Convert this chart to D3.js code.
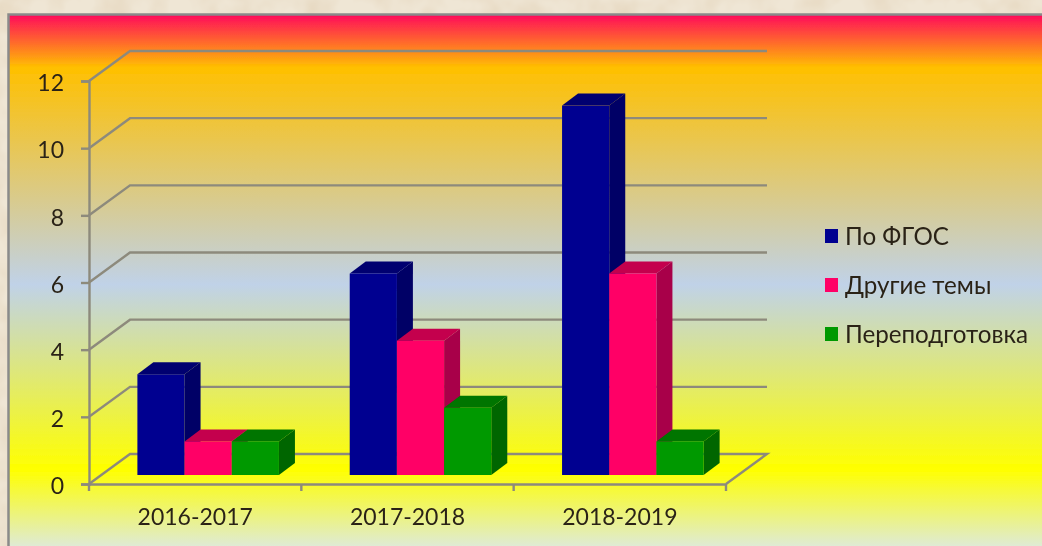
<!DOCTYPE html>
<html>
<head>
<meta charset="utf-8">
<script src="https://cdn.jsdelivr.net/npm/d3@7"></script>
<style>
html, body { margin: 0; padding: 0; background: #efe6d5; overflow: hidden; }
svg { display: block; }
text { font-family: Lato, "Open Sans", sans-serif; fill: #2b2418; }
</style>
</head>
<body>
<div id="chart"></div>
<script>
const categories = ['2016-2017', '2017-2018', '2018-2019'];
const seriesNames = ['По ФГОС', 'Другие темы', 'Переподготовка'];
const fgosValues = [3, 6, 11];
const otherValues = [1, 4, 6];
const retrainValues = [1, 2, 1];
const yTicks = [0, 2, 4, 6, 8, 10, 12];

const width = 1042, height = 546;
const gridColor = '#8d8a7c';
// front, top, side of each series
const seriesColors = [
    ['#000090', '#000070', '#000066'],
    ['#ff0066', '#c4004e', '#a80048'],
    ['#009900', '#007400', '#006600']
];
const seriesValues = [fgosValues, otherValues, retrainValues];

const floorDx = 41, floorDy = -30;   // depth of the floor
const barDx = 16, barDy = -12;       // depth of a bar
const barOffX = 13, barOffY = -9;    // bars stand a bit behind the front edge

const x = d3.scaleBand().domain(categories).range([89, 726]).paddingInner(1 / 3).paddingOuter(1 / 6);
const xInner = d3.scaleBand().domain(d3.range(seriesNames.length)).range([0, x.bandwidth()]);
const y = d3.scaleLinear().domain([0, 12]).range([484, 81]);

const svg = d3.select('#chart').append('svg').attr('width', width).attr('height', height);

const defs = svg.append('defs');
const grad = defs.append('linearGradient').attr('id', 'panelFill')
    .attr('gradientUnits', 'userSpaceOnUse')
    .attr('x1', 0).attr('x2', 0).attr('y1', 14.5).attr('y2', 546);
[
    [0, '#ff0a5c'], [0.1, '#ffc000'], [0.508, '#c0d2e8'],
    [0.856, '#ffff00'], [1, '#dfebd4']
].forEach(function(s) {
    grad.append('stop').attr('offset', s[0]).attr('stop-color', s[1]);
});
// the reference is a slightly soft screenshot
defs.append('filter').attr('id', 'soft')
    .attr('x', '-5%').attr('y', '-5%').attr('width', '110%').attr('height', '110%')
    .append('feGaussianBlur').attr('stdDeviation', 0.6);

// paper texture behind the panel
const paper = defs.append('filter').attr('id', 'paper')
    .attr('x', 0).attr('y', 0).attr('width', '100%').attr('height', '100%');
paper.append('feTurbulence').attr('type', 'fractalNoise').attr('baseFrequency', 0.03).attr('numOctaves', 3).attr('seed', 4);
paper.append('feColorMatrix').attr('type', 'matrix')
    .attr('values', '0 0 0 0 0.72  0 0 0 0 0.58  0 0 0 0 0.40  0.9 0 0 0 -0.32');
svg.append('rect').attr('width', width).attr('height', height).attr('filter', 'url(#paper)');

const root = svg.append('g').attr('filter', 'url(#soft)');

root.append('rect')
    .attr('x', 8.5).attr('y', 14.5).attr('width', 1045).attr('height', 545)
    .attr('fill', 'url(#panelFill)')
    .attr('stroke', '#8a8a8a').attr('stroke-width', 2.5);

// back wall and side wall grid
root.append('g').selectAll('path')
    .data(yTicks)
    .enter()
    .append('path')
    .attr('fill', 'none')
    .attr('stroke', gridColor)
    .attr('stroke-width', 2.4)
    .attr('d', function(d) {
        const p = d3.path();
        p.moveTo(x.range()[0], y(d));
        p.lineTo(x.range()[0] + floorDx, y(d) + floorDy);
        p.lineTo(x.range()[1] + floorDx, y(d) + floorDy);
        if (d === 0) p.lineTo(x.range()[1], y(d));
        return p.toString();
    });

// axes
const yAxis = root.append('g')
    .attr('transform', 'translate(' + x.range()[0] + ',0)')
    .call(d3.axisLeft(y).tickValues(yTicks).tickSize(8).tickPadding(17));
const xAxis = root.append('g')
    .attr('transform', 'translate(0,' + y(0) + ')')
    .call(d3.axisBottom(x).tickSize(0).tickPadding(25));
xAxis.selectAll('.tick-mark')
    .data(d3.range(categories.length + 1))
    .enter()
    .append('line')
    .attr('class', 'tick-mark')
    .attr('x1', function(i) { return x.range()[0] + i * x.step(); })
    .attr('x2', function(i) { return x.range()[0] + i * x.step(); })
    .attr('y1', 0).attr('y2', 7);
[yAxis, xAxis].forEach(function(a) {
    a.selectAll('.domain, line').attr('stroke', gridColor).attr('stroke-width', 2.4);
    a.selectAll('text').attr('fill', '#2b2418').style('font-size', '23px').style('font-family', 'Lato, sans-serif');
});
yAxis.selectAll('text').attr('dy', '0.42em');

// bars
const barData = [];
categories.forEach(function(c, ci) {
    seriesNames.forEach(function(s, si) {
        barData.push({ cat: c, si: si, value: seriesValues[si][ci] });
    });
});

const bars = root.append('g').selectAll('g')
    .data(barData)
    .enter()
    .append('g');

function barBox(d) {
    const x0 = x(d.cat) + xInner(d.si) + barOffX;
    const w = xInner.bandwidth();
    const yb = y(0) + barOffY;
    const yt = y(d.value) + barOffY;
    return { x0: x0, x1: x0 + w, yb: yb, yt: yt };
}

bars.append('path')
    .attr('fill', function(d) { return seriesColors[d.si][2]; })
    .attr('d', function(d) {
        const b = barBox(d);
        return 'M' + b.x1 + ',' + b.yb + 'L' + (b.x1 + barDx) + ',' + (b.yb + barDy) +
            'L' + (b.x1 + barDx) + ',' + (b.yt + barDy) + 'L' + b.x1 + ',' + b.yt + 'Z';
    });
bars.append('path')
    .attr('fill', function(d) { return seriesColors[d.si][1]; })
    .attr('d', function(d) {
        const b = barBox(d);
        return 'M' + b.x0 + ',' + b.yt + 'L' + (b.x0 + barDx) + ',' + (b.yt + barDy) +
            'L' + (b.x1 + barDx) + ',' + (b.yt + barDy) + 'L' + b.x1 + ',' + b.yt + 'Z';
    });
bars.append('rect')
    .attr('fill', function(d) { return seriesColors[d.si][0]; })
    .attr('x', function(d) { return barBox(d).x0; })
    .attr('y', function(d) { return barBox(d).yt; })
    .attr('width', xInner.bandwidth())
    .attr('height', function(d) { const b = barBox(d); return b.yb - b.yt; });

// legend
const legendY = d3.scalePoint().domain(seriesNames).range([236, 334]);
const legend = root.append('g').selectAll('g')
    .data(seriesNames)
    .enter()
    .append('g')
    .attr('transform', function(d) { return 'translate(825,' + legendY(d) + ')'; });
legend.append('rect')
    .attr('x', 0).attr('y', -7).attr('width', 13).attr('height', 14)
    .attr('fill', function(d, i) { return seriesColors[i][0]; });
legend.append('text')
    .attr('x', 20).attr('dy', '0.38em')
    .style('font-size', '24.2px')
    .text(function(d) { return d; });
</script>
</body>
</html>
